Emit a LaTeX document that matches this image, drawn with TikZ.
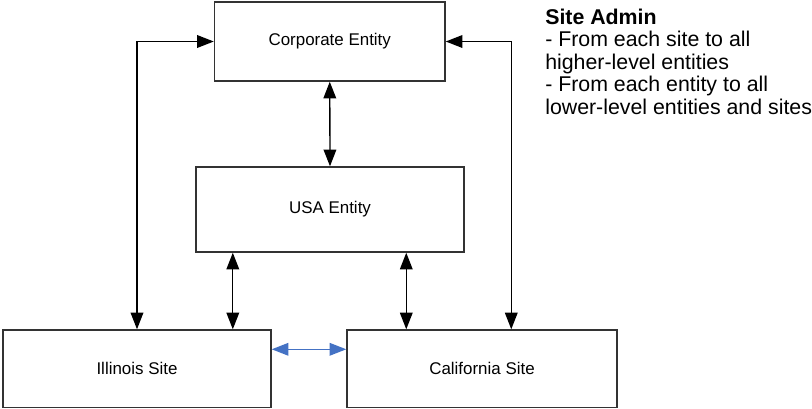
\documentclass[tikz,border=0pt]{standalone}
\usepackage{fontspec}
\setmainfont{Liberation Sans}
\usetikzlibrary{arrows.meta}

\begin{document}
\begin{tikzpicture}[
        x=0.75pt, y=-0.75pt,
        unit/.style={
            draw=black!80, line width=1.1pt, inner sep=0pt,
            font=\fontsize{12.7}{15}\selectfont
        },
        link/.style={
            line width=1pt,
            {Triangle[length=12.5pt,width=9.5pt]}-{Triangle[length=12.5pt,width=9.5pt]}
        },
        sitelink/.style={link, draw=siteblue, fill=siteblue}
    ]
    \definecolor{siteblue}{RGB}{68,114,196}
    \useasboundingbox (0,0) rectangle (812,408);

    % entities and sites
    \node[unit, minimum width=172.9pt, minimum height=59.25pt] (corp) at (329.75,41.5) {Corporate Entity};
    \node[unit, minimum width=201pt, minimum height=63.75pt] (usa) at (330,209.5) {USA Entity};
    \node[unit, minimum width=201pt, minimum height=58.1pt] (ill) at (137,368.75) {Illinois Site};
    \node[unit, minimum width=202.5pt, minimum height=58.1pt] (cal) at (482,368.75) {California Site};

    % where the links meet the sites
    \coordinate (ilTop) at ([xshift=172.9pt]ill.north west);
    \coordinate (caTop) at ([xshift=45pt]cal.north west);
    \coordinate (caFar) at ([xshift=123.75pt]cal.north west);
    \coordinate (ilSide) at ([yshift=-15pt]ill.north east);

    \draw[link] (ill.north) |- (corp.west);
    \draw[link] (caFar) |- (corp.east);
    \draw[link] (corp.south) -- (usa.north);
    \draw[link] (usa.south -| ilTop) -- (ilTop);
    \draw[link] (usa.south -| caTop) -- (caTop);
    \draw[sitelink] (ilSide) -- (ilSide -| cal.west);

    \node[anchor=north west, align=left, inner sep=0pt,
          font=\fontsize{16}{16.9}\selectfont] (note) at (545,8.5)
        {\textbf{Site Admin}\\- From each site to all\\higher-level entities\\- From each entity to all\\lower-level entities and sites};
\end{tikzpicture}
\end{document}
